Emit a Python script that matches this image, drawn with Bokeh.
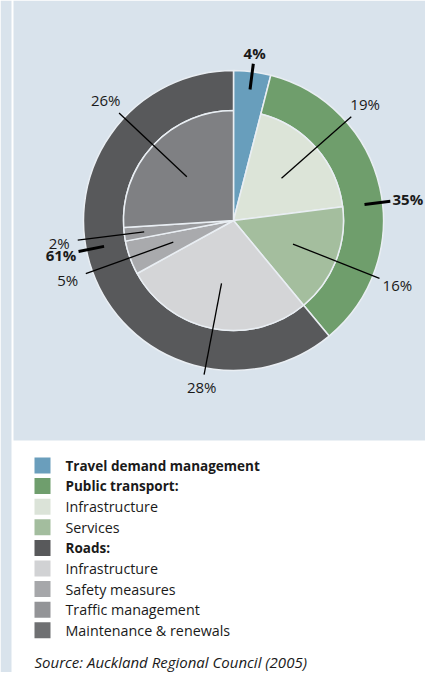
import math
from bokeh.plotting import figure
from bokeh.models import ColumnDataSource, Range1d
from bokeh.core.properties import value
from bokeh.embed import file_html
from bokeh.resources import INLINE

# ---------------- data ----------------
outer_groups = ["Travel demand management", "Public transport", "Roads"]
outer_values = [4, 35, 61]

inner_groups = ["Public transport", "Public transport", "Roads", "Roads", "Roads", "Roads"]
inner_categories = ["Infrastructure", "Services", "Infrastructure", "Safety measures",
                    "Traffic management", "Maintenance & renewals"]
inner_values = [19, 16, 28, 5, 2, 26]

legend_labels = ["Travel demand management", "Public transport:", "Infrastructure", "Services",
                 "Roads:", "Infrastructure", "Safety measures", "Traffic management",
                 "Maintenance & renewals"]
legend_bold = [True, True, False, False, True, False, False, False, False]
source_text = "Source: Auckland Regional Council (2005)"

# ---------------- styles ----------------
outer_colors = ["#689ebc", "#6f9e6c", "#58595b"]
inner_colors = ["#dce4d8", "#a4be9e", "#d4d5d7", "#a9aaad", "#9b9c9f", "#7f8083"]
legend_colors = ["#6a9ebc", "#6f9e6d", "#dbe3d8", "#a3bd9e", "#58595b", "#d1d2d4",
                 "#a6a7aa", "#939497", "#6f7072"]
outer_label_nudge = [0.0, 5.6, 8.5]   # degrees, layout only

PANEL = "#d9e3ec"
FONT = value("Open Sans")
TXT = "#1a1a1a"

W, H = 425, 672
CX, CY = 233, 452          # pie centre in plot units (=pixels)
R_IN, R_OUT = 110, 150

p = figure(width=W, height=H, output_backend="svg", toolbar_location=None,
           x_range=Range1d(0, W), y_range=Range1d(0, H),
           x_axis_location=None, y_axis_location=None, min_border=0,
           background_fill_color="white", border_fill_color="white")
p.outline_line_color = None
p.grid.visible = False

# background panels
p.quad(left=[0], right=[11], bottom=[0], top=[H], fill_color=PANEL, line_color=None)
p.quad(left=[13], right=[W], bottom=[232], top=[H], fill_color=PANEL, line_color=None)


def ang(c):
    """cumulative percent -> bokeh angle (ccw from +x), clockwise from top"""
    return math.pi / 2 - 2 * math.pi * c / 100.0


def polar(a_deg, r):
    a = math.radians(a_deg)
    return CX + r * math.sin(a), CY + r * math.cos(a)


# ---------- outer ring ----------
starts, ends, inner_r, cum = [], [], [], 0
outer_mid = []
for i, v in enumerate(outer_values):
    starts.append(ang(cum + v))
    ends.append(ang(cum))
    inner_r.append(0 if i == 0 else R_IN)
    outer_mid.append((cum + v / 2) * 3.6)
    cum += v
p.annular_wedge(x=CX, y=CY, inner_radius="ir", outer_radius=R_OUT,
                start_angle="s", end_angle="e", fill_color="c",
                line_color="#e9eef3", line_width=1.5,
                source=ColumnDataSource(dict(ir=inner_r, s=starts, e=ends, c=outer_colors)))

# ---------- inner pie ----------
starts, ends, cum = [], [], outer_values[0]
inner_mid = []
for v in inner_values:
    starts.append(ang(cum + v))
    ends.append(ang(cum))
    inner_mid.append((cum + v / 2) * 3.6)
    cum += v
p.wedge(x=CX, y=CY, radius=R_IN, start_angle="s", end_angle="e", fill_color="c",
        line_color="#e9eef3", line_width=1.5,
        source=ColumnDataSource(dict(s=starts, e=ends, c=inner_colors)))


def label_r(a_deg):
    a = math.radians(a_deg)
    return 161 + 6 * abs(math.cos(a)) + 14 * abs(math.sin(a))


# inner leaders & labels
x0s, y0s, x1s, y1s, lx, ly, lt = [], [], [], [], [], [], []
for v, a in zip(inner_values, inner_mid):
    r0 = 90 if v < 3 else 64
    x0, y0 = polar(a, r0)
    x1, y1 = polar(a, 157)
    x0s.append(x0); y0s.append(y0); x1s.append(x1); y1s.append(y1)
    tx, ty = polar(a, label_r(a))
    lx.append(tx); ly.append(ty); lt.append(f"{v}%")
p.segment(x0=x0s, y0=y0s, x1=x1s, y1=y1s, line_color="black", line_width=1.3)
p.text(x=lx, y=ly, text=lt, text_font=FONT, text_font_size="15px", text_color=TXT,
       text_align="center", text_baseline="middle")

# outer leaders & labels
x0s, y0s, x1s, y1s, lx, ly, lt = [], [], [], [], [], [], []
for v, a, n in zip(outer_values, outer_mid, outer_label_nudge):
    a = a + n
    x0, y0 = polar(a, 132)
    x1, y1 = polar(a, 158)
    x0s.append(x0); y0s.append(y0); x1s.append(x1); y1s.append(y1)
    tx, ty = polar(a, label_r(a))
    lx.append(tx); ly.append(ty); lt.append(f"{v}%")
p.segment(x0=x0s, y0=y0s, x1=x1s, y1=y1s, line_color="black", line_width=3)
p.text(x=lx, y=ly, text=lt, text_font=FONT, text_font_size="15px", text_color=TXT,
       text_font_style="bold", text_align="center", text_baseline="middle")

# ---------- legend ----------
row_y = [680 - (473 + i * 20.6) for i in range(len(legend_labels))]
p.rect(x=[42] * len(legend_labels), y=row_y, width=16, height=16,
       fill_color=legend_colors, line_color=None)
bx = [65 for b in legend_bold if b]
by = [y for y, b in zip(row_y, legend_bold) if b]
bt = [t for t, b in zip(legend_labels, legend_bold) if b]
nx = [65 for b in legend_bold if not b]
ny = [y for y, b in zip(row_y, legend_bold) if not b]
nt = [t for t, b in zip(legend_labels, legend_bold) if not b]
p.text(x=bx, y=by, text=bt, text_font=FONT, text_font_size="13.5px", text_color=TXT,
       text_font_style="bold", text_baseline="middle")
p.text(x=nx, y=ny, text=nt, text_font=FONT, text_font_size="14.3px", text_color=TXT,
       text_baseline="middle")
p.text(x=[34], y=[11], text=[source_text], text_font=FONT, text_font_size="15px",
       text_color=TXT, text_font_style="italic", text_baseline="middle")

open("out.html", "w").write(file_html(p, INLINE))
